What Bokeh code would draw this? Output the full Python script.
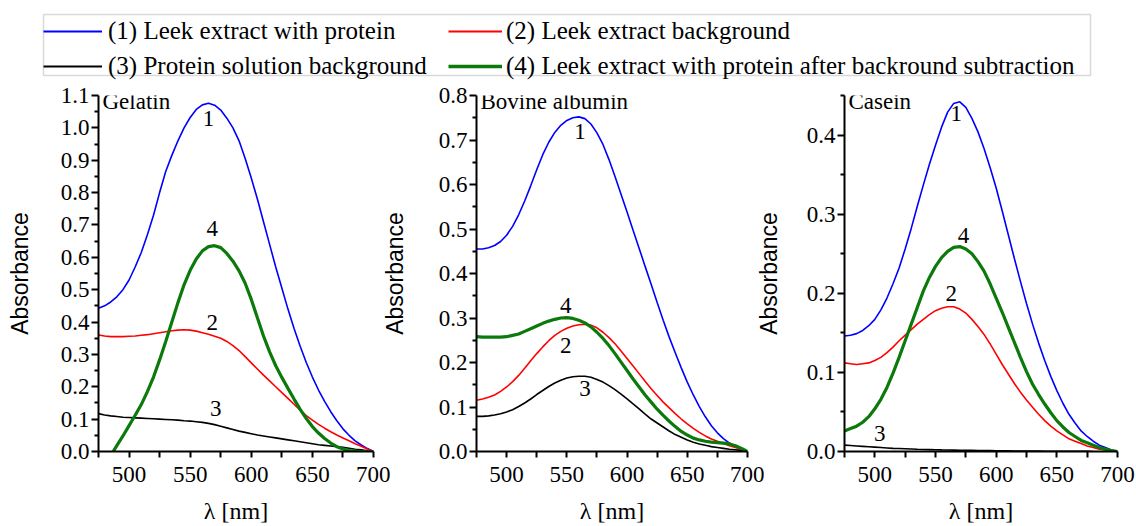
from bokeh.plotting import figure
from bokeh.models import (Range1d, FixedTicker, Label, Legend, LegendItem,
                          NumeralTickFormatter, BoxAnnotation)
from bokeh.layouts import column, row
from bokeh.embed import file_html
from bokeh.resources import INLINE
from bokeh.core.properties import value

# ---------------- data ----------------
wavelength = [475, 480, 485, 490, 495, 500, 505, 510, 515, 520,
              525, 530, 535, 540, 545, 550, 555, 560, 565, 570,
              575, 580, 585, 590, 595, 600, 605, 610, 615, 620,
              625, 630, 635, 640, 645, 650, 655, 660, 665, 670,
              675, 680, 685, 690, 695, 700]

# Gelatin
gel_with_protein = [0.443, 0.450, 0.462, 0.478, 0.500, 0.530, 0.570, 0.615, 0.670, 0.730,
                    0.800, 0.865, 0.915, 0.960, 1.000, 1.032, 1.057, 1.071, 1.076, 1.070,
                    1.055, 1.030, 1.000, 0.960, 0.905, 0.845, 0.780, 0.710, 0.640, 0.570,
                    0.505, 0.440, 0.380, 0.325, 0.275, 0.230, 0.190, 0.155, 0.123, 0.095,
                    0.070, 0.050, 0.033, 0.020, 0.009, 0.0]
gel_leek_bg = [0.360, 0.357, 0.355, 0.355, 0.355, 0.356, 0.357, 0.359, 0.361, 0.364,
               0.367, 0.370, 0.373, 0.375, 0.376, 0.375, 0.372, 0.367, 0.362, 0.356,
               0.350, 0.340, 0.327, 0.312, 0.293, 0.274, 0.255, 0.236, 0.218, 0.200,
               0.182, 0.164, 0.146, 0.128, 0.111, 0.097, 0.084, 0.072, 0.061, 0.051,
               0.042, 0.033, 0.024, 0.016, 0.008, 0.0]
gel_protein_bg = [0.117, 0.113, 0.110, 0.108, 0.106, 0.105, 0.104, 0.103, 0.102, 0.101,
                  0.100, 0.099, 0.098, 0.097, 0.095, 0.094, 0.092, 0.090, 0.087, 0.083,
                  0.078, 0.073, 0.068, 0.063, 0.059, 0.055, 0.051, 0.048, 0.045, 0.042,
                  0.039, 0.036, 0.033, 0.030, 0.027, 0.024, 0.021, 0.019, 0.017, 0.015,
                  0.013, 0.010, 0.007, 0.005, 0.002, 0.0]
gel_sub_wavelength = [487,
                      490, 495, 500, 505, 510, 515, 520, 525, 530, 535,
                      540, 545, 550, 555, 560, 565, 570, 575, 580, 585,
                      590, 595, 600, 605, 610, 615, 620, 625, 630, 635,
                      640, 645, 650, 655, 660, 665, 670, 675, 680, 685,
                      690, 695, 700]
gel_subtracted = [0.0,
                  0.018, 0.048, 0.080, 0.112, 0.145, 0.185, 0.230, 0.283, 0.340, 0.400,
                  0.460, 0.515, 0.560, 0.595, 0.620, 0.633, 0.636, 0.630, 0.612, 0.588,
                  0.558, 0.520, 0.470, 0.413, 0.357, 0.308, 0.265, 0.229, 0.195, 0.162,
                  0.130, 0.102, 0.077, 0.057, 0.040, 0.026, 0.015, 0.008, 0.003, 0.001,
                  0.0, 0.0, 0.0]

# Bovine albumin
bsa_with_protein = [0.455, 0.455, 0.458, 0.463, 0.472, 0.486, 0.506, 0.532, 0.563, 0.597,
                    0.633, 0.667, 0.695, 0.717, 0.733, 0.744, 0.750, 0.752, 0.748, 0.736,
                    0.716, 0.690, 0.656, 0.618, 0.578, 0.538, 0.497, 0.457, 0.416, 0.376,
                    0.335, 0.295, 0.257, 0.222, 0.188, 0.156, 0.127, 0.101, 0.078, 0.058,
                    0.042, 0.029, 0.019, 0.011, 0.005, 0.0]
bsa_leek_bg = [0.115, 0.118, 0.122, 0.127, 0.135, 0.145, 0.157, 0.171, 0.187, 0.204,
               0.220, 0.235, 0.249, 0.261, 0.270, 0.277, 0.282, 0.285, 0.286, 0.284,
               0.278, 0.268, 0.256, 0.242, 0.226, 0.209, 0.192, 0.175, 0.158, 0.141,
               0.126, 0.111, 0.098, 0.085, 0.073, 0.062, 0.052, 0.043, 0.035, 0.028,
               0.023, 0.018, 0.013, 0.009, 0.004, 0.0]
bsa_protein_bg = [0.079, 0.079, 0.080, 0.082, 0.085, 0.089, 0.094, 0.101, 0.109, 0.118,
                  0.128, 0.137, 0.146, 0.154, 0.160, 0.165, 0.168, 0.169, 0.169, 0.167,
                  0.162, 0.156, 0.148, 0.139, 0.129, 0.118, 0.107, 0.096, 0.084, 0.073,
                  0.064, 0.055, 0.046, 0.038, 0.032, 0.026, 0.021, 0.017, 0.014, 0.011,
                  0.009, 0.007, 0.005, 0.004, 0.002, 0.0]
bsa_subtracted = [0.258, 0.257, 0.257, 0.257, 0.257, 0.258, 0.261, 0.264, 0.270, 0.276,
                  0.282, 0.288, 0.293, 0.297, 0.300, 0.301, 0.299, 0.295, 0.289, 0.280,
                  0.268, 0.254, 0.238, 0.220, 0.201, 0.182, 0.163, 0.145, 0.127, 0.111,
                  0.095, 0.081, 0.068, 0.056, 0.045, 0.037, 0.030, 0.026, 0.023, 0.021,
                  0.020, 0.019, 0.017, 0.013, 0.007, 0.0]

# Casein
cas_with_protein = [0.146, 0.147, 0.149, 0.153, 0.159, 0.167, 0.179, 0.194, 0.212, 0.232,
                    0.256, 0.282, 0.310, 0.337, 0.363, 0.387, 0.410, 0.429, 0.440, 0.442,
                    0.435, 0.421, 0.404, 0.383, 0.359, 0.333, 0.304, 0.274, 0.244, 0.215,
                    0.187, 0.161, 0.137, 0.115, 0.095, 0.077, 0.061, 0.047, 0.036, 0.026,
                    0.019, 0.013, 0.008, 0.005, 0.002, 0.0]
cas_leek_bg = [0.112, 0.111, 0.110, 0.111, 0.112, 0.115, 0.119, 0.125, 0.132, 0.140,
               0.147, 0.154, 0.161, 0.167, 0.173, 0.178, 0.181, 0.183, 0.183, 0.180,
               0.175, 0.167, 0.158, 0.148, 0.136, 0.123, 0.110, 0.098, 0.086, 0.075,
               0.065, 0.056, 0.047, 0.039, 0.032, 0.026, 0.021, 0.016, 0.013, 0.010,
               0.007, 0.005, 0.003, 0.002, 0.001, 0.0]
cas_bg_wavelength = [475, 480, 485, 490, 495, 500, 505, 510, 515, 520,
                     525, 530, 535, 540, 545, 550, 555, 560, 565, 570,
                     575, 580, 585, 590, 595, 600, 605, 610, 615, 620,
                     625, 630, 635, 640, 645, 650, 655, 660, 665, 670,
                     675, 680]
cas_protein_bg = [0.0080, 0.0075, 0.0070, 0.0065, 0.0060, 0.0055, 0.0050, 0.0045, 0.0040, 0.0037,
                  0.0034, 0.0031, 0.0028, 0.0026, 0.0024, 0.0022, 0.0020, 0.0019, 0.0018, 0.0016,
                  0.0015, 0.0014, 0.0013, 0.0012, 0.0011, 0.0010, 0.0009, 0.0008, 0.0007, 0.0006,
                  0.0006, 0.0005, 0.0005, 0.0004, 0.0004, 0.0003, 0.0003, 0.0002, 0.0002, 0.0001,
                  0.0001, 0.0]
cas_subtracted = [0.026, 0.029, 0.032, 0.037, 0.044, 0.054, 0.066, 0.081, 0.099, 0.119,
                  0.140, 0.161, 0.182, 0.203, 0.220, 0.234, 0.245, 0.253, 0.258, 0.259,
                  0.256, 0.250, 0.240, 0.228, 0.212, 0.194, 0.176, 0.157, 0.138, 0.119,
                  0.101, 0.085, 0.072, 0.060, 0.049, 0.039, 0.031, 0.024, 0.019, 0.014,
                  0.011, 0.008, 0.005, 0.003, 0.001, 0.0]

# curve number labels (x in nm, y in absorbance)
curve_numbers = ["1", "4", "2", "3"]
gel_num_x = [565, 568, 568, 571]
gel_num_y = [1.03, 0.688, 0.40, 0.133]
bsa_num_x = [561, 549, 549, 565]
bsa_num_y = [0.718, 0.328, 0.238, 0.141]
cas_num_x = [567, 573, 563, 504]
cas_num_y = [0.427, 0.273, 0.20, 0.023]

x_ticks = [500, 550, 600, 650, 700]
x_minor = [475, 525, 575, 625, 675]
gel_y_ticks = [0.0, 0.1, 0.2, 0.3, 0.4, 0.5, 0.6, 0.7, 0.8, 0.9, 1.0, 1.1]
gel_y_minor = [0.05, 0.15, 0.25, 0.35, 0.45, 0.55, 0.65, 0.75, 0.85, 0.95, 1.05]
bsa_y_ticks = [0.0, 0.1, 0.2, 0.3, 0.4, 0.5, 0.6, 0.7, 0.8]
bsa_y_minor = [0.05, 0.15, 0.25, 0.35, 0.45, 0.55, 0.65, 0.75]
cas_y_ticks = [0.0, 0.1, 0.2, 0.3, 0.4]
cas_y_minor = [0.05, 0.15, 0.25, 0.35, 0.45]

legend_labels = ["(1) Leek extract with protein",
                 "(2) Leek extract background",
                 "(3) Protein solution background",
                 "(4) Leek extract with protein after backround subtraction"]

BLUE = "#0000FF"
RED = "#FF0000"
BLACK = "#000000"
GREEN = "#0B7A0B"
SERIF = "Liberation Serif"
SANS = "Liberation Sans"


def make_panel(width, left, right, ymax, yticks, yminor, title, title_y,
               blue, red, black, black_x, green, green_x, num_x, num_y,
               label_standoff, margin):
    p = figure(width=width, height=446, x_range=Range1d(475, 700), y_range=Range1d(0, ymax),
               toolbar_location=None, output_backend="svg",
               min_border_left=left, min_border_right=right,
               min_border_top=15, min_border_bottom=75, margin=margin)
    p.grid.visible = False
    p.outline_line_color = None
    p.border_fill_color = None
    p.background_fill_color = None

    p.line(wavelength, blue, line_color=BLUE, line_width=1.6)
    p.line(wavelength, red, line_color=RED, line_width=1.6)
    p.line(black_x, black, line_color=BLACK, line_width=1.6)
    p.line(green_x, green, line_color=GREEN, line_width=3.2)

    p.text(x=num_x, y=num_y, text=curve_numbers, text_font=value(SERIF),
           text_font_size=value("23px"), text_align="center", text_baseline="middle",
           text_color=BLACK)

    p.add_layout(Label(x=475, y=title_y, x_offset=4, text=title, text_font=SERIF,
                       text_font_size="23px", text_baseline="middle", text_color=BLACK))

    xa = p.xaxis[0]
    xa.ticker = FixedTicker(ticks=x_ticks, minor_ticks=x_minor)
    xa.formatter = NumeralTickFormatter(format="0")
    xa.axis_label = "λ [nm]"
    xa.axis_label_text_font = SERIF
    xa.axis_label_text_font_size = "24px"
    xa.axis_label_text_font_style = "normal"
    xa.axis_label_standoff = 13
    xa.major_label_standoff = 9
    xa.major_tick_out = 6
    xa.major_tick_in = 0
    xa.minor_tick_out = 6
    xa.minor_tick_in = 0

    ya = p.yaxis[0]
    ya.ticker = FixedTicker(ticks=yticks, minor_ticks=yminor)
    ya.formatter = NumeralTickFormatter(format="0.0")
    ya.axis_label = "Absorbance"
    ya.axis_label_text_font = SANS
    ya.axis_label_text_font_size = "23px"
    ya.axis_label_text_font_style = "normal"
    ya.axis_label_standoff = label_standoff
    ya.major_label_standoff = 2
    ya.major_tick_out = 7
    ya.major_tick_in = 0
    ya.minor_tick_out = 4
    ya.minor_tick_in = 0

    for ax in (xa, ya):
        ax.axis_line_width = 2
        ax.major_tick_line_width = 2
        ax.minor_tick_line_width = 2
        ax.major_label_text_font = SERIF
        ax.major_label_text_font_size = "23px"
        ax.major_label_text_color = BLACK
        ax.axis_label_text_color = BLACK
    return p


p1 = make_panel(390, 98, 17, 1.1, gel_y_ticks, gel_y_minor, "Gelatin", 1.083,
                gel_with_protein, gel_leek_bg, gel_protein_bg, wavelength,
                gel_subtracted, gel_sub_wavelength, gel_num_x, gel_num_y, 25, (0, 0, 0, 0))
p2 = make_panel(386, 94, 17, 0.8, bsa_y_ticks, bsa_y_minor, "Bovine albumin", 0.787,
                bsa_with_protein, bsa_leek_bg, bsa_protein_bg, wavelength,
                bsa_subtracted, wavelength, bsa_num_x, bsa_num_y, 28, (0, 0, 0, -12))
p3 = make_panel(384, 90, 19, 0.45, cas_y_ticks, cas_y_minor, "Casein", 0.4425,
                cas_with_protein, cas_leek_bg, cas_protein_bg, cas_bg_wavelength,
                cas_subtracted, wavelength, cas_num_x, cas_num_y, 22, (0, 0, 0, -12))

# ---------------- legend strip ----------------
leg = figure(width=1136, height=80, toolbar_location=None, output_backend="svg",
             min_border=0, x_range=Range1d(0, 1136), y_range=Range1d(0, 80),
             x_axis_location=None, y_axis_location=None)
leg.grid.visible = False
leg.outline_line_color = None
leg.add_layout(BoxAnnotation(left=43, right=1090, bottom=5, top=66,
                             fill_color="white", fill_alpha=1.0,
                             line_color="#808080", line_width=1.5))
colors = [BLUE, RED, BLACK, GREEN]
widths = [2, 2, 2, 3.5]
# off-range sample glyphs used only as legend keys
rs = [leg.line(x=[-20, -10], y=[-20, -10], line_color=c, line_width=w)
      for c, w in zip(colors, widths)]
common = dict(padding=0, margin=0, spacing=6, label_height=29, glyph_height=20,
              label_text_font=SERIF, label_text_font_size="25px",
              label_text_color=BLACK, border_line_color=None,
              background_fill_alpha=0.0)
legend_a = Legend(items=[LegendItem(label=legend_labels[0], renderers=[rs[0]]),
                         LegendItem(label=legend_labels[2], renderers=[rs[2]])],
                  location=(43, 0), glyph_width=59, label_standoff=6, **common)
legend_b = Legend(items=[LegendItem(label=legend_labels[1], renderers=[rs[1]]),
                         LegendItem(label=legend_labels[3], renderers=[rs[3]])],
                  location=(448, 0), glyph_width=54, label_standoff=4, **common)
leg.add_layout(legend_a)
leg.add_layout(legend_b)

layout = column(leg, row(p1, p2, p3))
open("out.html", "w").write(file_html(layout, INLINE))
